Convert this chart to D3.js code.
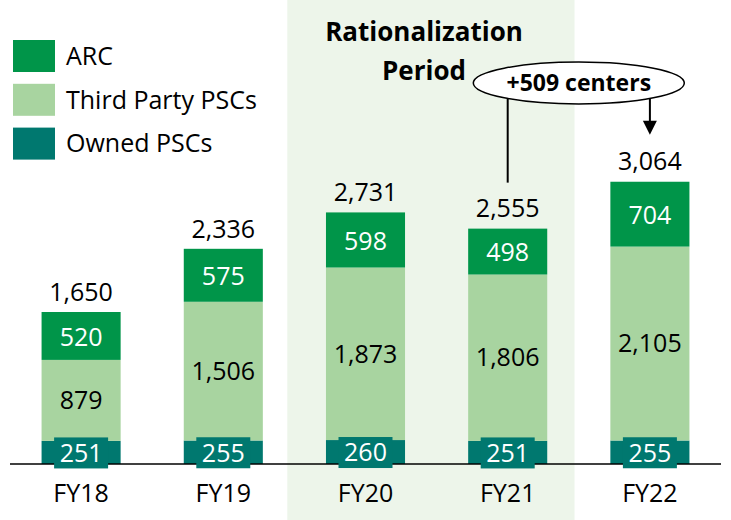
<!DOCTYPE html>
<html>
<head>
<meta charset="utf-8">
<script src="https://cdn.jsdelivr.net/npm/d3@7"></script>
<style>
  html, body { margin: 0; padding: 0; background: #fff; }
  svg { display: block; font-family: "Open Sans", Lato, sans-serif; }
</style>
</head>
<body>
<svg id="chart" width="731" height="520"></svg>
<script>
const years = ["FY18", "FY19", "FY20", "FY21", "FY22"];
const owned = [251, 255, 260, 251, 255];
const thirdParty = [879, 1506, 1873, 1806, 2105];
const arc = [520, 575, 598, 498, 704];
const totals = [1650, 2336, 2731, 2555, 3064];
const seriesNames = ["ARC", "Third Party PSCs", "Owned PSCs"];
const shadedYears = ["FY20", "FY21"];
const shadedTitle = ["Rationalization", "Period"];
const calloutText = "+509 centers";
const calloutFrom = "FY21";
const calloutTo = "FY22";

const colors = { arc: "#009549", third: "#A8D4A0", owned: "#00786F", shade: "#EDF5EA" };

const svg = d3.select("#chart");
const W = 731, H = 520;
const baseY = 464;

const x = d3.scaleBand().domain(years).range([10, 721]).paddingInner(0.444).paddingOuter(0.222);
const y = d3.scaleLinear().domain([0, 1650]).range([baseY, 312]);
const bw = x.bandwidth();
const cx = d => x(d) + bw / 2;

// shaded period
const sx0 = cx(shadedYears[0]) - 0.55 * x.step();
const sx1 = cx(shadedYears[1]) + 0.47 * x.step();
svg.append("rect").attr("x", sx0).attr("y", 0).attr("width", sx1 - sx0).attr("height", H).attr("fill", colors.shade);

const rows = years.map((yr, i) => ({ yr, owned: owned[i], third: thirdParty[i], arc: arc[i], total: totals[i] }));
const stack = d3.stack().keys(["owned", "third", "arc"])(rows);
const fill = { owned: colors.owned, third: colors.third, arc: colors.arc };

stack.forEach(layer => {
  svg.append("g").selectAll("rect").data(layer).join("rect")
    .attr("x", d => x(d.data.yr))
    .attr("width", bw)
    .attr("y", d => y(d[1]))
    .attr("height", d => y(d[0]) - y(d[1]))
    .attr("fill", fill[layer.key]);
});

// axis line
svg.append("line").attr("x1", 10).attr("x2", 721).attr("y1", baseY).attr("y2", baseY)
  .attr("stroke", "#000").attr("stroke-width", 1.5);

const fmt = d3.format(",");
const fs = 25;

// owned labels with boxes
stack[0].forEach(d => {
  const c = cx(d.data.yr);
  const my = (y(d[0]) + y(d[1])) / 2 + 0.5;
  svg.append("rect").attr("x", c - 27).attr("y", my - 15.5).attr("width", 54).attr("height", 31).attr("fill", colors.owned);
  svg.append("text").attr("x", c).attr("y", my).attr("dy", "0.35em").attr("text-anchor", "middle")
    .attr("font-size", fs).attr("fill", "#fff").text(fmt(d.data.owned));
});
// third labels
stack[1].forEach(d => {
  svg.append("text").attr("x", cx(d.data.yr)).attr("y", (y(d[0]) + y(d[1])) / 2).attr("dy", "0.35em")
    .attr("text-anchor", "middle").attr("font-size", fs).attr("fill", "#000").text(fmt(d.data.third));
});
// arc labels
stack[2].forEach(d => {
  svg.append("text").attr("x", cx(d.data.yr)).attr("y", (y(d[0]) + y(d[1])) / 2 + 1).attr("dy", "0.35em")
    .attr("text-anchor", "middle").attr("font-size", fs).attr("fill", "#fff").text(fmt(d.data.arc));
});
// totals
rows.forEach(d => {
  svg.append("text").attr("x", cx(d.yr)).attr("y", y(d.total) - 20).attr("dy", "0.35em")
    .attr("text-anchor", "middle").attr("font-size", fs).attr("fill", "#000").text(fmt(d.total));
});
// x labels
years.forEach(yr => {
  svg.append("text").attr("x", cx(yr)).attr("y", 493).attr("dy", "0.35em")
    .attr("text-anchor", "middle").attr("font-size", fs).attr("fill", "#000").text(yr);
});

// legend
const legColors = [colors.arc, colors.third, colors.owned];
seriesNames.forEach((n, i) => {
  const ly = 40 + i * 43.8;
  svg.append("rect").attr("x", 13).attr("y", ly).attr("width", 42).attr("height", 32).attr("fill", legColors[i]);
  svg.append("text").attr("x", 66).attr("y", ly + 16).attr("dy", "0.35em").attr("font-size", fs).attr("fill", "#000").text(n);
});

// shaded title
shadedTitle.forEach((t, i) => {
  svg.append("text").attr("x", 424).attr("y", 32 + i * 38.5).attr("dy", "0.35em").attr("text-anchor", "middle")
    .attr("font-size", 26).attr("font-weight", "bold").attr("fill", "#000").text(t);
});

// callout
const ex = (cx(calloutFrom) + cx(calloutTo)) / 2, ey = 83;
const fromIdx = years.indexOf(calloutFrom), toIdx = years.indexOf(calloutTo);
svg.append("line").attr("x1", cx(calloutFrom)).attr("x2", cx(calloutFrom)).attr("y1", ey + 16).attr("y2", y(totals[fromIdx]) - 46)
  .attr("stroke", "#000").attr("stroke-width", 2);
const arrowTip = y(totals[toIdx]) - 47;
svg.append("line").attr("x1", cx(calloutTo)).attr("x2", cx(calloutTo)).attr("y1", ey + 16).attr("y2", arrowTip - 12)
  .attr("stroke", "#000").attr("stroke-width", 2);
svg.append("path").attr("d", `M${cx(calloutTo) - 7},${arrowTip - 14}L${cx(calloutTo) + 7},${arrowTip - 14}L${cx(calloutTo)},${arrowTip}Z`).attr("fill", "#000");
svg.append("ellipse").attr("cx", ex).attr("cy", ey).attr("rx", 105.5).attr("ry", 21)
  .attr("fill", "#fff").attr("stroke", "#000").attr("stroke-width", 1.5);
svg.append("text").attr("x", ex).attr("y", ey).attr("dy", "0.35em").attr("text-anchor", "middle")
  .attr("font-size", 23).attr("font-weight", "bold").attr("fill", "#000").text(calloutText);
</script>
</body>
</html>
